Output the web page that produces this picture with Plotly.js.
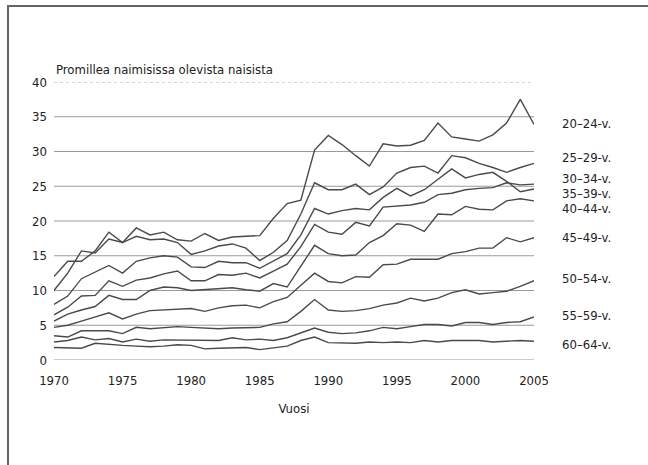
<!DOCTYPE html>
<html>
<head>
<meta charset="utf-8">
<script src="https://cdn.plot.ly/plotly-3.0.1.min.js"></script>
<style>
  html, body { margin: 0; padding: 0; background: #ffffff; width: 648px; height: 465px; overflow: hidden; }
  #frame { position: absolute; left: 7px; top: 5px; width: 700px; height: 520px; border-left: 2px solid #666; border-top: 2px solid #666; }
  #chart { position: absolute; left: 0; top: 0; width: 648px; height: 465px; }
</style>
</head>
<body>
<div id="frame"></div>
<div id="chart"></div>
<script>
const years = [1970,1971,1972,1973,1974,1975,1976,1977,1978,1979,1980,1981,1982,1983,1984,1985,1986,1987,1988,1989,1990,1991,1992,1993,1994,1995,1996,1997,1998,1999,2000,2001,2002,2003,2004,2005];

const age20_24 = [12.0,14.2,14.2,15.7,18.4,16.9,19.0,18.0,18.4,17.3,17.1,18.2,17.2,17.7,17.8,17.9,20.4,22.5,23.0,30.2,32.3,31.0,29.4,27.9,31.1,30.8,30.9,31.6,34.1,32.1,31.8,31.5,32.4,34.1,37.5,33.9];
const age25_29 = [10.0,12.5,15.7,15.4,17.4,16.9,17.8,17.3,17.4,16.9,15.2,15.7,16.4,16.7,16.1,14.3,15.5,17.2,21.0,25.5,24.5,24.5,25.3,23.8,24.9,26.9,27.7,27.9,26.9,29.4,29.1,28.3,27.7,27.0,27.7,28.3];
const age30_34 = [8.0,9.2,11.7,12.6,13.6,12.5,14.2,14.7,15.0,14.8,13.4,13.3,14.2,14.0,14.0,13.2,14.2,15.3,18.0,21.8,21.0,21.5,21.8,21.6,23.4,24.7,23.6,24.5,26.0,27.5,26.2,26.7,27.0,25.7,24.2,24.6];
const age35_39 = [6.5,7.6,9.2,9.3,11.4,10.6,11.5,11.8,12.4,12.8,11.4,11.4,12.3,12.2,12.5,11.8,12.8,13.8,16.3,19.5,18.4,18.1,19.8,19.3,22.0,22.1,22.3,22.7,23.8,24.0,24.5,24.7,24.8,25.5,25.2,25.3];
const age40_44 = [5.6,6.6,7.2,7.7,9.3,8.7,8.7,10.0,10.5,10.4,10.0,10.1,10.3,10.4,10.1,9.9,11.0,10.5,13.5,16.5,15.3,15.0,15.1,16.9,17.9,19.6,19.4,18.5,21.0,20.9,22.1,21.7,21.6,22.9,23.2,22.9];
const age45_49 = [4.7,5.0,5.6,6.2,6.8,5.9,6.6,7.1,7.2,7.2,7.4,7.0,7.5,7.8,7.9,7.5,8.4,9.0,10.8,12.5,11.3,11.1,12.0,11.9,13.7,13.8,14.5,14.5,14.5,15.3,15.6,16.1,16.1,17.6,17.0,17.6];
const age50_54 = [3.5,3.3,4.2,4.2,4.2,3.8,4.7,4.5,4.6,4.8,4.7,4.6,4.5,4.6,4.7,4.7,5.2,5.5,7.0,8.7,7.2,7.0,7.1,7.4,7.9,8.2,8.9,8.5,8.9,9.7,10.1,9.5,9.7,9.9,10.6,11.4];
const age55_59 = [2.6,2.8,3.3,2.9,3.1,2.6,3.0,2.7,2.9,2.9,2.9,2.9,2.8,3.2,2.9,3.0,2.8,3.2,3.9,4.6,4.0,3.8,3.9,4.2,4.7,4.5,4.8,5.1,5.1,4.9,5.4,5.4,5.1,5.4,5.5,6.2];
const age60_64 = [1.8,1.8,1.7,2.4,2.2,2.1,2.0,1.9,2.0,2.2,2.1,1.6,1.7,1.8,1.8,1.5,1.7,2.0,2.8,3.3,2.5,2.4,2.4,2.6,2.5,2.6,2.5,2.8,2.6,2.8,2.8,2.8,2.6,2.7,2.8,2.7];

const seriesNames = ["20–24-v.","25–29-v.","30–34-v.","35–39-v.","40–44-v.","45–49-v.","50–54-v.","55–59-v.","60–64-v."];
const seriesValues = [age20_24, age25_29, age30_34, age35_39, age40_44, age45_49, age50_54, age55_59, age60_64];

const yTicks = [0,5,10,15,20,25,30,35,40];
const xTicks = [1970,1975,1980,1985,1990,1995,2000,2005];

const yAxisTitle = "Promillea naimisissa olevista naisista";
const xAxisTitle = "Vuosi";

const FONT = "'Liberation Sans Narrow', 'DejaVu Sans Condensed', 'Arial Narrow', 'Roboto Condensed', 'DejaVu Sans', sans-serif";
const lineColor = "#4a4a4a";
const gridColor = "#9a9a9a";

const traces = seriesValues.map((vals, i) => ({
  type: "scatter",
  mode: "lines",
  x: years,
  y: vals,
  name: seriesNames[i],
  line: { color: lineColor, width: 1.4 },
  hoverinfo: "x+y+name",
  cliponaxis: false
}));

// label y-positions at the right end (spread to avoid overlap)
const labelY = [34.1, 29.1, 26.15, 23.95, 21.75, 17.6, 11.7, 6.4, 2.2];
const annotations = seriesNames.map((n, i) => ({
  xref: "paper", yref: "y",
  x: 1.054, y: labelY[i],
  xanchor: "left", yanchor: "middle",
  text: n, showarrow: false,
  font: { family: FONT, size: 13, color: "#222" }
}));
annotations.push({
  xref: "paper", yref: "paper", x: 0, y: 1,
  xanchor: "left", yanchor: "bottom", yshift: 3,
  text: yAxisTitle, showarrow: false,
  font: { family: FONT, size: 13, color: "#222" }
});

// gridlines drawn as shapes so the 40 line can be dotted
const shapes = yTicks.map(v => ({
  type: "line", xref: "paper", yref: "y",
  x0: 0, x1: 1, y0: v, y1: v,
  layer: "below",
  line: { color: v === 40 ? "#aaaaaa" : gridColor, width: 1, dash: v === 40 ? "dot" : "solid" }
}));

const layout = {
  width: 648, height: 465,
  margin: { l: 54, r: 114, t: 82, b: 105 },
  paper_bgcolor: "rgba(0,0,0,0)",
  plot_bgcolor: "rgba(0,0,0,0)",
  showlegend: false,
  font: { family: FONT, size: 13, color: "#222" },
  xaxis: {
    range: [1970, 2005],
    tickvals: xTicks,
    ticktext: xTicks.map(String),
    showgrid: false, zeroline: false, showline: false,
    ticks: "", ticklabelstandoff: 11,
    tickfont: { family: FONT, size: 13, color: "#222" },
    title: { text: xAxisTitle, font: { family: FONT, size: 13, color: "#222" }, standoff: 16 },
    fixedrange: true
  },
  yaxis: {
    range: [0, 40],
    tickvals: yTicks,
    ticktext: yTicks.map(String),
    showgrid: false, zeroline: false, showline: false,
    ticks: "", ticklabelstandoff: 6,
    tickfont: { family: FONT, size: 13, color: "#222" },
    fixedrange: true
  },
  shapes: shapes,
  annotations: annotations
};

Plotly.newPlot("chart", traces, layout, { displayModeBar: false, staticPlot: true });
</script>
</body>
</html>
